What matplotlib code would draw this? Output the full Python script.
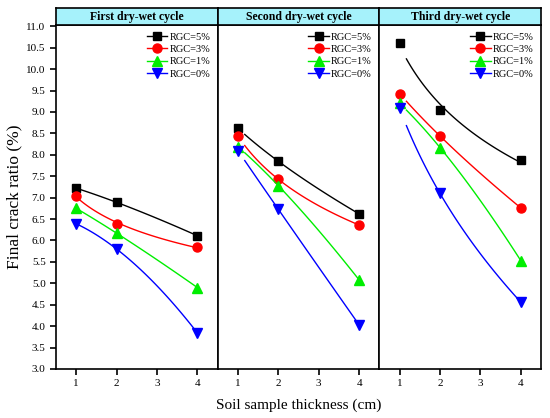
import matplotlib
matplotlib.use("Agg")
import matplotlib.pyplot as plt
import numpy as np

plt.rcParams['font.family'] = ['Liberation Serif', 'DejaVu Serif']

# soil thickness (cm)
thickness = [1, 2, 4]
cycles = ['First dry-wet cycle', 'Second dry-wet cycle', 'Third dry-wet cycle']
labels = ['RGC=5%', 'RGC=3%', 'RGC=1%', 'RGC=0%']

# final crack ratio (%) per cycle, rows = RGC 5,3,1,0
cycle1 = [[7.22, 6.89, 6.11],
          [7.04, 6.38, 5.85],
          [6.75, 6.17, 4.90],
          [6.39, 5.80, 3.84]]
cycle2 = [[8.62, 7.85, 6.62],
          [8.44, 7.43, 6.36],
          [8.19, 7.28, 5.08],
          [8.10, 6.73, 4.03]]
cycle3 = [[10.62, 9.04, 7.89],
          [9.43, 8.44, 6.76],
          [9.20, 8.17, 5.53],
          [9.09, 7.10, 4.56]]

# type of fitted curve per series ('pow' = a+b*x^c, 'log' = a+b*ln x)
fit_kind = [['pow', 'log', 'pow', 'pow'],
            ['pow', 'pow', 'pow', 'pow'],
            ['log', 'pow', 'pow', 'pow']]
fit_start = [1.0, 1.17, 1.17]

colors = ['black', 'red', '#00ee00', 'blue']
markers = ['s', 'o', '^', 'v']
msizes = [5.5, 6.5, 7, 7]


def fit_curve(x, y, kind, xs):
    x = np.asarray(x, float)
    y = np.asarray(y, float)
    if kind == 'log':
        b, a = np.polyfit(np.log(x), y, 1)
        return a + b * np.log(xs)
    # a + b*x^c through points at x = 1, 2, 4
    q = (y[2] - y[1]) / (y[1] - y[0])
    c = np.log2(q)
    b = (y[1] - y[0]) / (2 ** c - 1)
    a = y[0] - b
    return a + b * xs ** c


fig = plt.figure(figsize=(5.5, 4.18), dpi=100)
left, right = 56 / 550, 541 / 550
bottom, top = 1 - 369 / 418, 1 - 25 / 418
head_top = 1 - 7.5 / 418
w = (right - left) / 3

data = [cycle1, cycle2, cycle3]
for i in range(3):
    ax = fig.add_axes([left + i * w, bottom, w, top - bottom])
    hx = fig.add_axes([left + i * w, top, w, head_top - top])
    hx.set_facecolor('#a6f2fb')
    hx.set_xticks([])
    hx.set_yticks([])
    for s in hx.spines.values():
        s.set_linewidth(1.2)
    hx.text(0.5, 0.45, cycles[i], ha='center', va='center',
            fontsize=8.5, fontweight='bold', transform=hx.transAxes)

    xs = np.linspace(fit_start[i], 4, 100)
    for j in range(4):
        y = data[i][j]
        ax.plot(thickness, y, linestyle='None', color=colors[j],
                marker=markers[j], markersize=msizes[j])
        ax.plot(xs, fit_curve(thickness, y, fit_kind[i][j], xs),
                color=colors[j], linewidth=1.0)

    ax.set_xlim(0.5, 4.5)
    ax.set_ylim(3.0, 11.03)
    ax.set_xticks([1, 2, 3, 4])
    ax.tick_params(direction='out', length=4, width=1.2, labelsize=8)
    if i == 0:
        yt = np.arange(3.0, 11.01, 0.5)
        ax.set_yticks(yt)
        ax.set_yticklabels([f'{v:.1f}' for v in yt])
        ax.set_ylabel('Final crack ratio (%)', fontsize=12.5, labelpad=3)
    else:
        ax.set_yticks([])
    for s in ax.spines.values():
        s.set_linewidth(1.2)

    handles = [plt.Line2D([], [], color=colors[j], marker=markers[j],
                          markersize=msizes[j], linewidth=1.0)
               for j in range(4)]
    ax.legend(handles, labels, loc='upper right', frameon=False, fontsize=7.5,
              handlelength=2.0, handletextpad=0.2, labelspacing=0.3,
              borderaxespad=0.3)

fig.text((left + right) / 2, 0.03, 'Soil sample thickness (cm)',
         ha='center', va='center', fontsize=11)

fig.savefig('out.png', dpi=100)
